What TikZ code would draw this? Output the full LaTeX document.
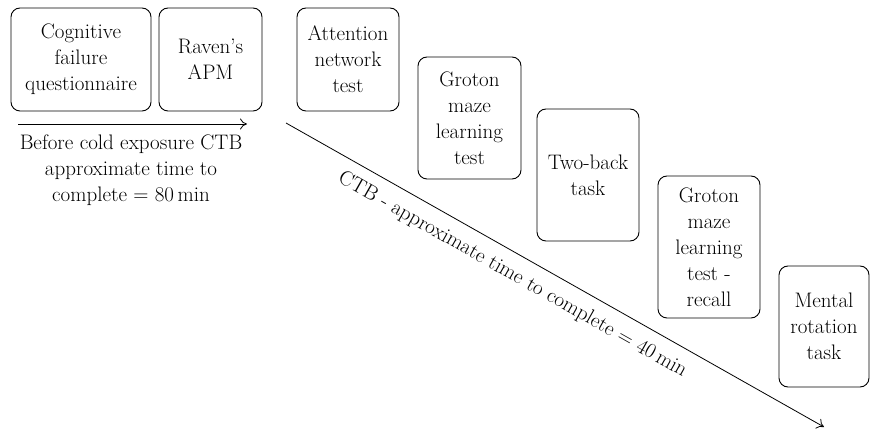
\documentclass[tikz,border=0pt]{standalone}
\usetikzlibrary{arrows.meta}
\begin{document}
\begin{tikzpicture}[x=1pt,y=-1pt]
\tikzstyle{every node}+=[font=\fontsize{21}{26}\selectfont]
\tikzstyle{task}=[draw=black, line width=0.9pt, rounded corners=9pt, align=center, inner sep=0pt]
\tikzstyle{timeline}=[black, line width=0.8pt, -{To[length=7pt,width=11pt]}]
\useasboundingbox (0,0) rectangle (871,430);
\node [task, minimum width=140, minimum height=103] (cfq) at (81,59.5) {Cognitive\\failure\\questionnaire};
\node [task, minimum width=103, minimum height=103] (apm) at (210.5,59.5) {Raven's\\APM};
\node [task, minimum width=102, minimum height=103] (ant) at (348,59.5) {Attention\\network\\test};
\node [task, minimum width=103, minimum height=122] (gml) at (469.5,118) {Groton\\maze\\learning\\test};
\node [task, minimum width=102, minimum height=132] (twoback) at (588,175) {Two-back\\task};
\node [task, minimum width=102, minimum height=142] (gmr) at (709,247) {Groton\\maze\\learning\\test -\\recall};
\node [task, minimum width=90, minimum height=121] (mrt) at (824,326.5) {Mental\\rotation\\task};
\coordinate (pre0) at (18,124);
\coordinate (pre1) at (247,124);
\draw [timeline] (pre0) -- (pre1);
\node [align=center] (prelabel) at (131,170) {Before cold exposure CTB\\approximate time to\\complete = 80\,min};
\coordinate (ctb0) at (286,123);
\coordinate (ctb1) at (824,427);
\draw [timeline] (ctb0) -- (ctb1) node [pos=0.44, sloped, below=8pt, inner sep=3pt] (ctblabel) {CTB - approximate time to complete = 40\,min};
\end{tikzpicture}
\end{document}
